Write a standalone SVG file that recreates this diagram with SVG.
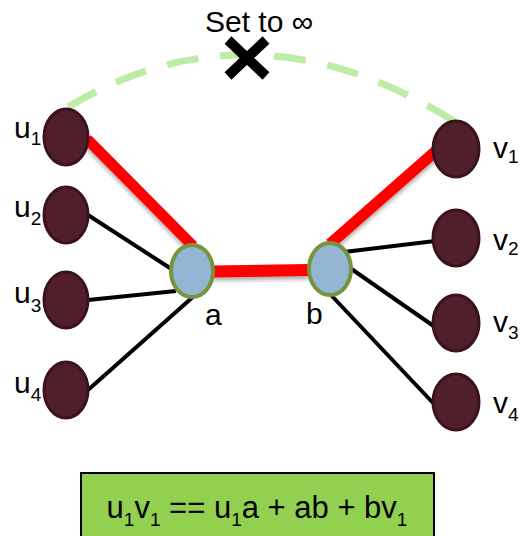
<svg xmlns="http://www.w3.org/2000/svg" width="532" height="536" viewBox="0 0 532 536">
<style>
.lbl{font-family:"Liberation Sans",Arial,sans-serif;font-size:30px;fill:#000}
.sub{font-size:19px}
.outer{fill:#511e2b;stroke:#3b131d;stroke-width:3}
.inner{fill:#94b6d2;stroke:#77933c;stroke-width:4}
.blk{stroke:#000;stroke-width:4;fill:none}
.red{stroke:#ff0000;stroke-width:11;fill:none}
</style>
<defs>
<filter id="sh" filterUnits="userSpaceOnUse" x="0" y="0" width="532" height="536">
<feDropShadow dx="0" dy="3" stdDeviation="2" flood-color="#000" flood-opacity="0.35"/>
</filter>
</defs>
<rect width="532" height="536" fill="#fff"/>
<g id="connectors">
<path d="M68,107 Q255,-5 457,123" stroke="#bdeca5" stroke-width="7" fill="none" stroke-dasharray="32,22"/>
<line class="blk" x1="88" y1="215" x2="173" y2="270"/>
<line class="blk" x1="88" y1="300" x2="176" y2="291"/>
<line class="blk" x1="88" y1="390" x2="194" y2="296"/>
<line class="blk" x1="344" y1="252" x2="435" y2="241"/>
<line class="blk" x1="350" y1="268" x2="435" y2="327"/>
<line class="blk" x1="330" y1="294" x2="435" y2="405"/>
<g filter="url(#sh)">
<line class="red" x1="87" y1="139" x2="193" y2="246"/>
<line class="red" x1="437" y1="150" x2="330" y2="244"/>
<line class="red" x1="213" y1="271.5" x2="309" y2="270" style="stroke-width:12"/>
</g>
</g>
<g id="u1"><ellipse class="outer" cx="66" cy="137" rx="22" ry="28"/><text class="lbl" x="14" y="138">u<tspan class="sub" dy="7">1</tspan></text></g>
<g id="u2"><ellipse class="outer" cx="66" cy="215" rx="22" ry="28"/><text class="lbl" x="14" y="217">u<tspan class="sub" dy="8">2</tspan></text></g>
<g id="u3"><ellipse class="outer" cx="66" cy="300" rx="22" ry="28"/><text class="lbl" x="14" y="303">u<tspan class="sub" dy="9">3</tspan></text></g>
<g id="u4"><ellipse class="outer" cx="66" cy="390" rx="22" ry="28"/><text class="lbl" x="14" y="393">u<tspan class="sub" dy="8">4</tspan></text></g>
<g id="v1"><ellipse class="outer" cx="456" cy="149" rx="23" ry="28"/><text class="lbl" x="493" y="158">v<tspan class="sub" dy="5">1</tspan></text></g>
<g id="v2"><ellipse class="outer" cx="456" cy="238" rx="23" ry="28"/><text class="lbl" x="493" y="250">v<tspan class="sub" dy="5">2</tspan></text></g>
<g id="v3"><ellipse class="outer" cx="456" cy="323" rx="23" ry="28"/><text class="lbl" x="493" y="332">v<tspan class="sub" dy="7">3</tspan></text></g>
<g id="v4"><ellipse class="outer" cx="456" cy="402" rx="23" ry="28"/><text class="lbl" x="493" y="413">v<tspan class="sub" dy="8">4</tspan></text></g>
<g id="a"><ellipse class="inner" cx="192" cy="271" rx="21" ry="26"/><text class="lbl" x="205" y="325">a</text></g>
<g id="b"><ellipse class="inner" cx="330" cy="269" rx="21" ry="26"/><text class="lbl" x="306" y="324">b</text></g>
<g id="setinf">
<text class="lbl" x="259" y="32" text-anchor="middle">Set to ∞</text>
<path d="M228,40 L266,76 M266,40 L228,76" stroke="#000" stroke-width="10"/>
</g>
<g id="formula">
<rect x="81" y="473" width="353" height="70" fill="#92d050" stroke="#000" stroke-width="2"/>
<text class="lbl" x="257" y="518" text-anchor="middle" style="font-size:31px">u<tspan class="sub" dy="8">1</tspan><tspan dy="-8">v</tspan><tspan class="sub" dy="8">1</tspan><tspan dy="-8"> == u</tspan><tspan class="sub" dy="8">1</tspan><tspan dy="-8">a + ab + bv</tspan><tspan class="sub" dy="8">1</tspan></text>
</g>
</svg>
